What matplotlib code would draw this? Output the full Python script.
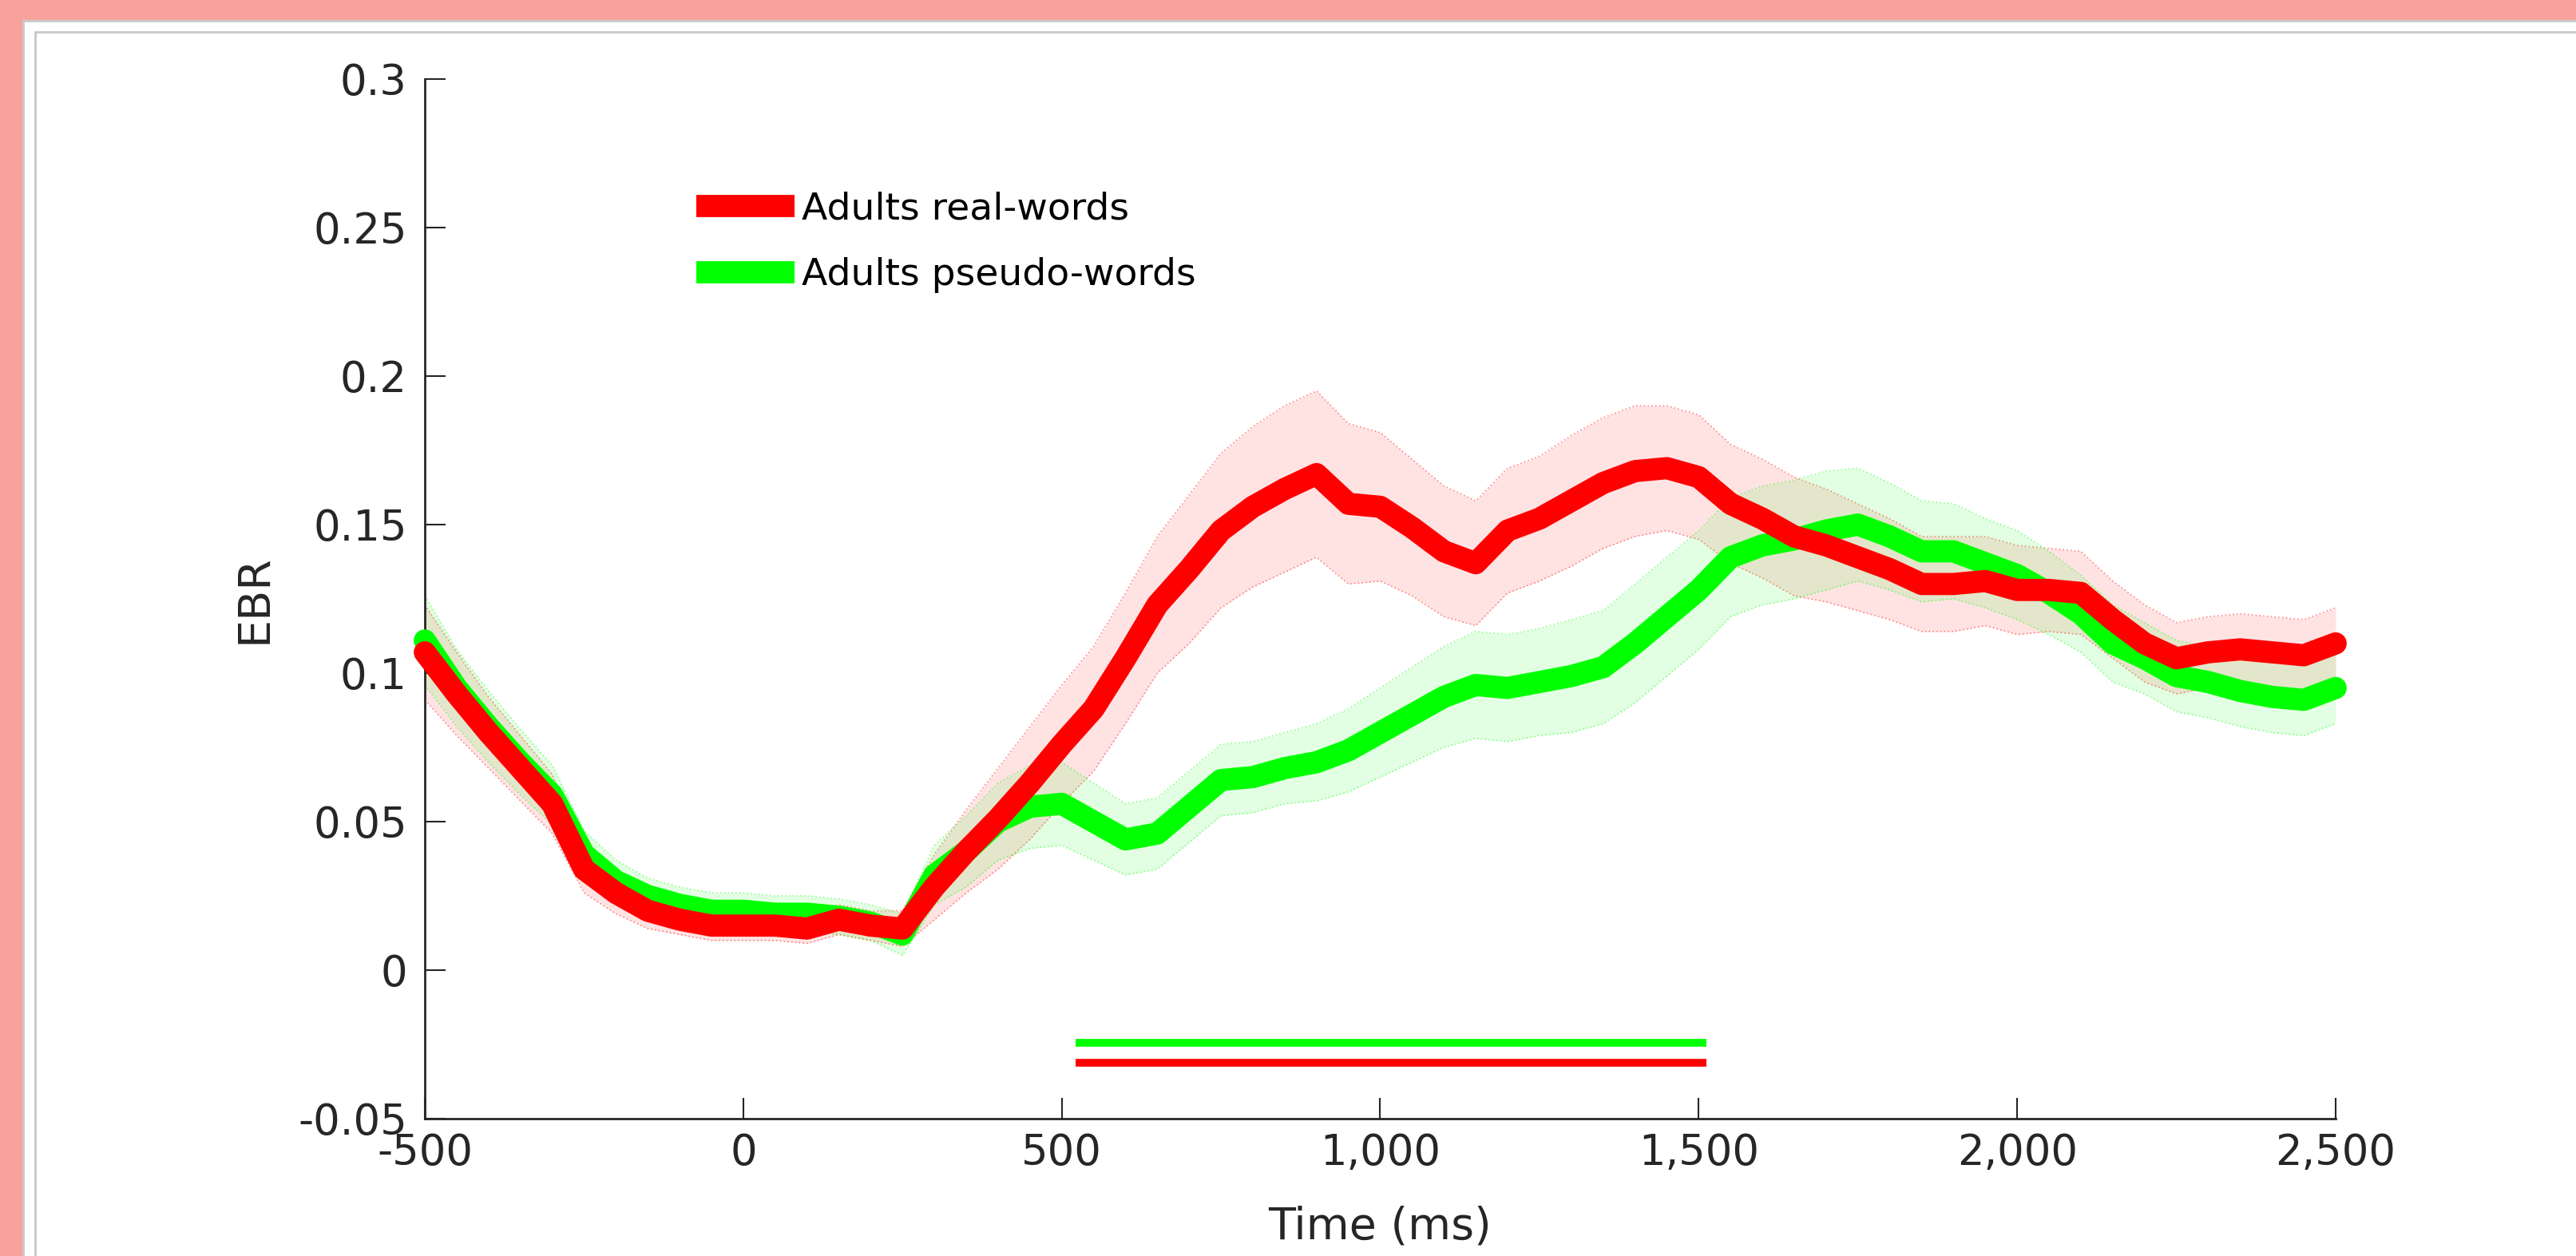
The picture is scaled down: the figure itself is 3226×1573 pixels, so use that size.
"""
EBR time course: adults, real-words vs pseudo-words (mean +/- SEM)
"""
import numpy as np
import matplotlib
matplotlib.use("Agg")
import matplotlib.pyplot as plt
from matplotlib.patches import Rectangle
from matplotlib.lines import Line2D

plt.rcParams['font.family'] = ['DejaVu Sans']

# ── data (every 50 ms) ───────────────────────────────────────────────────────
time_ms = list(range(-500, 2501, 50))

real_mean = [0.107, 0.093, 0.080, 0.068, 0.056, 0.034, 0.026, 0.020, 0.017, 0.015,
             0.015, 0.015, 0.014, 0.017, 0.015, 0.014, 0.028, 0.040, 0.051, 0.063,
             0.076, 0.088, 0.105, 0.123, 0.135, 0.148, 0.156, 0.162, 0.167, 0.157,
             0.156, 0.149, 0.141, 0.137, 0.148, 0.152, 0.158, 0.164, 0.168, 0.169,
             0.166, 0.157, 0.152, 0.146, 0.143, 0.139, 0.135, 0.130, 0.130, 0.131,
             0.128, 0.128, 0.127, 0.118, 0.110, 0.105, 0.107, 0.108, 0.107, 0.106,
             0.110]
real_sem = [0.016, 0.014, 0.012, 0.011, 0.010, 0.008, 0.007, 0.006, 0.005, 0.005,
            0.005, 0.005, 0.005, 0.005, 0.005, 0.006, 0.011, 0.014, 0.017, 0.019,
            0.020, 0.021, 0.022, 0.023, 0.025, 0.026, 0.027, 0.028, 0.028, 0.027,
            0.025, 0.023, 0.022, 0.021, 0.021, 0.021, 0.022, 0.022, 0.022, 0.021,
            0.021, 0.020, 0.020, 0.020, 0.019, 0.018, 0.017, 0.016, 0.016, 0.015,
            0.015, 0.014, 0.014, 0.013, 0.013, 0.012, 0.012, 0.012, 0.012, 0.012,
            0.012]

pseudo_mean = [0.111, 0.095, 0.082, 0.070, 0.059, 0.039, 0.030, 0.025, 0.022, 0.020,
               0.020, 0.019, 0.019, 0.018, 0.016, 0.012, 0.032, 0.040, 0.050, 0.055,
               0.056, 0.050, 0.044, 0.046, 0.055, 0.064, 0.065, 0.068, 0.070, 0.074,
               0.080, 0.086, 0.092, 0.096, 0.095, 0.097, 0.099, 0.102, 0.110, 0.119,
               0.128, 0.139, 0.143, 0.145, 0.148, 0.150, 0.146, 0.141, 0.141, 0.137,
               0.133, 0.127, 0.120, 0.110, 0.105, 0.099, 0.097, 0.094, 0.092, 0.091,
               0.095]
pseudo_sem = [0.015, 0.013, 0.012, 0.011, 0.010, 0.008, 0.007, 0.006, 0.006, 0.006,
              0.006, 0.006, 0.006, 0.006, 0.006, 0.007, 0.010, 0.012, 0.013, 0.014,
              0.014, 0.013, 0.012, 0.012, 0.012, 0.012, 0.012, 0.012, 0.013, 0.014,
              0.015, 0.016, 0.017, 0.018, 0.018, 0.018, 0.019, 0.019, 0.020, 0.020,
              0.020, 0.020, 0.020, 0.020, 0.020, 0.019, 0.018, 0.017, 0.016, 0.015,
              0.015, 0.014, 0.013, 0.013, 0.012, 0.012, 0.012, 0.012, 0.012, 0.012,
              0.012]

# significant windows (ms) and where the bars sit (EBR units)
sig_pseudo = (522, 1512, -0.0245)
sig_real = (522, 1512, -0.0312)

labels = ["Adults real-words", "Adults pseudo-words"]
xticks = [-500, 0, 500, 1000, 1500, 2000, 2500]
xticklabels = ["-500", "0", "500", "1,000", "1,500", "2,000", "2,500"]
yticks = [-0.05, 0, 0.05, 0.1, 0.15, 0.2, 0.25, 0.3]
yticklabels = ["-0.05", "0", "0.05", "0.1", "0.15", "0.2", "0.25", "0.3"]

RED = '#ff0000'
GREEN = '#00ff00'
DARK = '#262626'

# ── figure ───────────────────────────────────────────────────────────────────
W, H = 3226, 1573
fig = plt.figure(figsize=(W / 100, H / 100), dpi=100)
fig.patch.set_facecolor('white')

# salmon page border + thin grey window edges
fig.add_artist(Rectangle((0, 1 - 25 / H), 1, 25 / H, transform=fig.transFigure,
                         color='#f8a29b', lw=0, zorder=0))
fig.add_artist(Rectangle((0, 0), 28 / W, 1, transform=fig.transFigure,
                         color='#f8a29b', lw=0, zorder=0))
for xx, yy in [(29 / W, 1 - 26 / H), (44 / W, 1 - 40 / H)]:
    fig.add_artist(Line2D([xx, xx], [0, yy], transform=fig.transFigure, color='#c8c8c8', lw=2))
    fig.add_artist(Line2D([xx, 1], [yy, yy], transform=fig.transFigure, color='#c8c8c8', lw=2))

ax = fig.add_axes([532 / W, 1 - 1401 / H, 2393 / W, 1302 / H])

t = np.array(time_ms)
series = [
    (np.array(pseudo_mean), np.array(pseudo_sem), GREEN),
    (np.array(real_mean), np.array(real_sem), RED),
]

# shaded SEM bands
for m, s, c in series[::-1]:
    ax.fill_between(t, m - s, m + s, color=c, alpha=0.11, lw=0, zorder=1)
    ax.plot(t, m + s, ls=':', color=c, lw=1.3, alpha=0.4, zorder=1)
    ax.plot(t, m - s, ls=':', color=c, lw=1.3, alpha=0.4, zorder=1)

# mean curves
handles = {}
for (m, s, c), lab in zip(series, labels[::-1]):
    handles[lab], = ax.plot(t, m, color=c, lw=20, solid_capstyle='round',
                            solid_joinstyle='round', zorder=3, clip_on=False)

# significance bars
for (x0, x1, yb), c in [(sig_pseudo, GREEN), (sig_real, RED)]:
    ax.plot([x0, x1], [yb, yb], color=c, lw=7, solid_capstyle='butt', zorder=3)

ax.set_xlim(-500, 2500)
ax.set_ylim(-0.05, 0.3)
ax.set_xticks(xticks)
ax.set_xticklabels(xticklabels)
ax.set_yticks(yticks)
ax.set_yticklabels(yticklabels)

for side in ['top', 'right']:
    ax.spines[side].set_visible(False)
for side in ['left', 'bottom']:
    ax.spines[side].set_color(DARK)
    ax.spines[side].set_linewidth(2)

ax.tick_params(direction='in', length=19, width=1.5, color=DARK,
               labelsize=38, labelcolor=DARK)
ax.tick_params(axis='y', pad=16)
ax.tick_params(axis='x', pad=12)

ax.set_xlabel('Time (ms)', fontsize=40, color=DARK)
ax.set_ylabel('EBR', fontsize=40, color=DARK)
ax.xaxis.set_label_coords(0.5, -0.083)
ax.yaxis.set_label_coords(-0.078, 0.5)

leg = ax.legend([handles[l] for l in labels], labels, loc='upper left',
                bbox_to_anchor=(0.142, 0.892), frameon=False, fontsize=34,
                handlelength=2.6, handletextpad=0.2, labelspacing=0.8,
                borderpad=0, borderaxespad=0)
for line in leg.get_lines():
    line.set_linewidth(20)
    line.set_solid_capstyle('butt')
for txt in leg.get_texts():
    txt.set_color('black')

fig.savefig('out.png', dpi=100, facecolor=fig.get_facecolor())
